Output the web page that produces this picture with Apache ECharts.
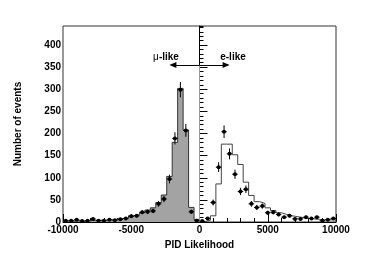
<!DOCTYPE html>
<html><head><meta charset="utf-8">
<script src="https://cdn.jsdelivr.net/npm/echarts/dist/echarts.min.js"></script>
<style>html,body{margin:0;padding:0;background:#fff}#c{width:374px;height:268px}</style>
</head><body><div id="c"></div>
<script>
// bin edges (width 400) and centers
const edgesLeft = [-10000,-9600,-9200,-8800,-8400,-8000,-7600,-7200,-6800,-6400,-6000,-5600,-5200,-4800,-4400,-4000,-3600,-3200,-2800,-2400,-2000,-1600,-1200,-800,-400,0];
const edgesRight = [0,400,800,1200,1600,2000,2400,2800,3200,3600,4000,4400,4800,5200,5600,6000,6400,6800,7200,7600,8000,8400,8800,9200,9600,10000];
const binCenters = [-9800,-9400,-9000,-8600,-8200,-7800,-7400,-7000,-6600,-6200,-5800,-5400,-5000,-4600,-4200,-3800,-3400,-3000,-2600,-2200,-1800,-1400,-1000,-600,-200,
  200,600,1000,1400,1800,2200,2600,3000,3400,3800,4200,4600,5000,5400,5800,6200,6600,7000,7400,7800,8200,8600,9000,9400,9800];
// observed data counts
const dataCounts = [3,3,5,2,3,7,3,3,5,4,6,8,13,14,22,23,25,41,52,97,189,299,207,23,3,
  2,8,44,124,204,154,108,69,74,41,33,36,21,22,17,11,14,7,7,11,8,11,3,5,8];
// MC: mu-like (PID<0) and e-like (PID>0)
const mcMuLike = [2,2,3,2,3,4,4,4,5,6,8,9,14,16,21,27,32,44,61,103,180,302,208,33,6];
const mcELike = [1,4,14,86,176,176,152,130,90,60,46,42,32,26,21,17,14,12,10,8,7,6,5,5,5];
const xTicks = {min:-10000, max:10000, major:5000, minor:1000};
const yTicks = {min:0, max:443, major:50, minor:10};
const arrowY = 355, arrowHalf = 1950, labelY = 372, labelX = 2454;
const binHalf = 200;

function stepData(edges, vals){
  const d = [[edges[0],0]];
  for (let i=0;i<vals.length;i++) d.push([edges[i], vals[i]]);
  d.push([edges[edges.length-1], vals[vals.length-1]]);
  d.push([edges[edges.length-1], 0]);
  return d;
}

const chart = echarts.init(document.getElementById('c'), null, {renderer:'canvas'});
const font = 'Liberation Sans, Arial, Helvetica, sans-serif';
const lbl = {color:'#000', fontFamily:font, fontWeight:'bold', fontSize:10};
const plain = v => String(v);
chart.setOption({
  animation:false,
  grid:{left:63, right:38, top:26, bottom:46, show:true, borderColor:'#333', borderWidth:1, backgroundColor:'transparent'},
  xAxis:[
    {type:'value', min:xTicks.min, max:xTicks.max, interval:xTicks.major, position:'bottom',
     axisLine:{show:true, lineStyle:{color:'#000', width:1}},
     axisTick:{show:true, inside:true, length:8, lineStyle:{color:'#000'}},
     axisLabel:Object.assign({margin:3, formatter:plain}, lbl), splitLine:{show:false},
     name:'PID Likelihood', nameLocation:'middle', nameGap:17, nameTextStyle:lbl},
    {type:'value', min:xTicks.min, max:xTicks.max, interval:xTicks.minor, position:'bottom',
     axisLine:{show:false}, axisTick:{show:true, inside:true, length:4, lineStyle:{color:'#000'}},
     axisLabel:{show:false}, splitLine:{show:false}}
  ],
  yAxis:[
    {type:'value', min:yTicks.min, max:yTicks.max, interval:yTicks.major, position:'left', offset:0,
     axisLine:{show:true, lineStyle:{color:'#000', width:1}},
     axisTick:{show:true, inside:true, length:8, lineStyle:{color:'#000'}},
     axisLabel:Object.assign({margin:2, showMaxLabel:false, formatter:plain}, lbl), splitLine:{show:false},
     name:'Number of events', nameLocation:'middle', nameGap:40, nameRotate:90, nameTextStyle:lbl},
    {type:'value', min:yTicks.min, max:yTicks.max, interval:yTicks.minor, position:'left', offset:0,
     axisLine:{show:false}, axisTick:{show:true, inside:true, length:4, lineStyle:{color:'#000'}},
     axisLabel:{show:false}, splitLine:{show:false}}
  ],
  series:[
    {type:'line', step:'end', xAxisIndex:0, yAxisIndex:0, symbol:'none',
     data:stepData(edgesLeft, mcMuLike),
     lineStyle:{color:'#333', width:1}, areaStyle:{color:'#a3a3a3', opacity:1}, z:2},
    {type:'line', step:'end', xAxisIndex:0, yAxisIndex:0, symbol:'none',
     data:stepData(edgesRight, mcELike),
     lineStyle:{color:'#444', width:1}, z:2,
     markLine:{silent:true, symbol:['none','none'], label:{show:false},
       data:[
         [{coord:[0,0], lineStyle:{color:'#999', width:1, type:'solid'}}, {coord:[0,arrowY]}],
         [{coord:[0,arrowY], symbol:'none', lineStyle:{color:'#000', width:1, type:'solid'}}, {coord:[-arrowHalf,arrowY], symbol:'triangle', symbolSize:[6,7], symbolRotate:90}],
         [{coord:[0,arrowY], symbol:'none', lineStyle:{color:'#000', width:1, type:'solid'}}, {coord:[arrowHalf,arrowY], symbol:'triangle', symbolSize:[6,7], symbolRotate:-90}]
       ]},
     markPoint:{silent:true, symbol:'circle', symbolSize:0.1,
       data:[
         {coord:[-labelX,labelY], label:{show:true, position:'inside', formatter:'{m|μ}{b|-like}',
           rich:{m:{fontFamily:font, fontSize:10, color:'#000'}, b:{fontFamily:font, fontSize:10, fontWeight:'bold', color:'#000'}}}},
         {coord:[labelX,labelY], label:{show:true, position:'inside', formatter:'e-like', fontFamily:font, fontSize:10, fontWeight:'bold', color:'#000'}}
       ]}},
    {type:'custom', xAxisIndex:0, yAxisIndex:0, z:5,
     data:binCenters.map((c,i)=>[c, dataCounts[i]]),
     renderItem:function(params, api){
       const x = api.value(0), y = api.value(1);
       const e = Math.sqrt(y);
       const c = api.coord([x,y]);
       const t = api.coord([x,y+e]);
       const b = api.coord([x,Math.max(0,y-e)]);
       const l = api.coord([x-binHalf,y]);
       const r = api.coord([x+binHalf,y]);
       return {type:'group', children:[
         {type:'line', shape:{x1:c[0],y1:t[1],x2:c[0],y2:b[1]}, style:{stroke:'#000',lineWidth:1}},
         {type:'line', shape:{x1:l[0],y1:c[1],x2:r[0],y2:c[1]}, style:{stroke:'#000',lineWidth:1}},
         {type:'circle', shape:{cx:c[0],cy:c[1],r:2}, style:{fill:'#000'}}
       ]};
     }}
  ]
});
</script></body></html>
